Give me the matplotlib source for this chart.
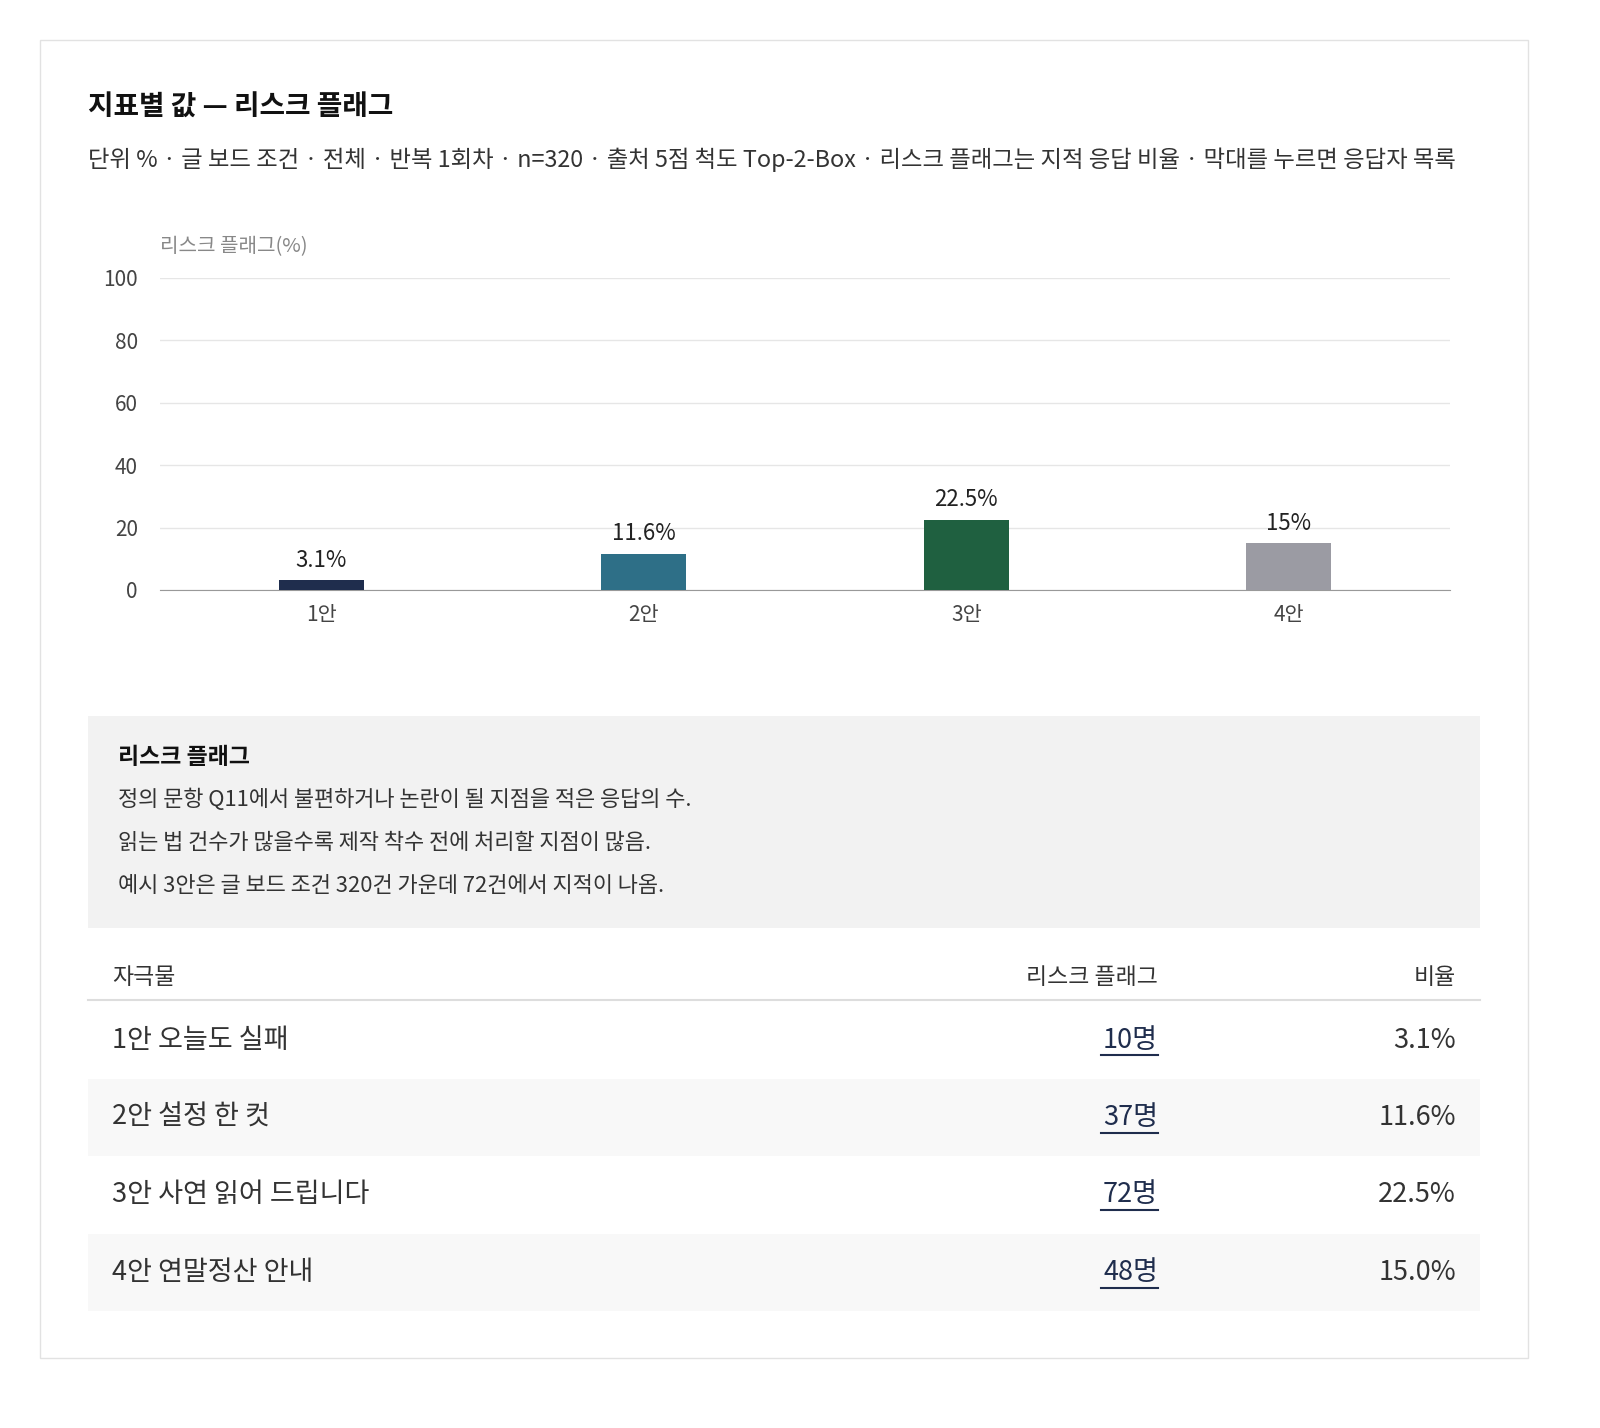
import matplotlib.pyplot as plt
from matplotlib.patches import Rectangle

plt.rcParams['font.family'] = ['Noto Sans CJK KR', 'DejaVu Sans']

# 데이터
categories = ['1안', '2안', '3안', '4안']
risk_pct = [3.1, 11.6, 22.5, 15.0]
bar_labels = ['3.1%', '11.6%', '22.5%', '15%']
bar_colors = ['#1f2d4d', '#2e6f87', '#1f6040', '#9b9ba3']
stimuli = ['1안 오늘도 실패', '2안 설정 한 컷', '3안 사연 읽어 드립니다', '4안 연말정산 안내']
counts = [10, 37, 72, 48]
yticks = [0, 20, 40, 60, 80, 100]

W, H = 1600, 1428
fig = plt.figure(figsize=(W / 100, H / 100), dpi=100)


def fx(px):
    return px / W


def fy(py):
    return 1 - py / H


def txt(x, y, s, **kw):
    fig.text(fx(x), fy(y), s, va='center', **kw)


# 카드 테두리
fig.patches.append(Rectangle((fx(40), fy(1358)), fx(1488), 1318 / H, transform=fig.transFigure,
                             fill=False, edgecolor='#e2e2e2', lw=1))

txt(88, 108, '지표별 값 — 리스크 플래그', fontsize=20, fontweight='bold', color='#111111')
txt(88, 160, '단위 % · 글 보드 조건 · 전체 · 반복 1회차 · n=320 · 출처 5점 척도 Top-2-Box · '
    '리스크 플래그는 지적 응답 비율 · 막대를 누르면 응답자 목록', fontsize=16.8, color='#333333')

# 막대 그래프
ax = fig.add_axes([fx(160), fy(590), fx(1290), (590 - 278) / H])
x = range(len(categories))
ax.bar(x, risk_pct, width=0.265, color=bar_colors, zorder=3)
for i, (v, lab) in enumerate(zip(risk_pct, bar_labels)):
    ax.annotate(lab, (i, v), xytext=(0, 6), textcoords='offset points', ha='center', va='bottom',
                fontsize=16, color='#222222')
ax.set_xlim(-0.5, 3.5)
ax.set_ylim(0, 100)
ax.set_yticks(yticks)
ax.set_xticks(list(x))
ax.set_xticklabels(categories)
ax.tick_params(length=0, labelsize=15, labelcolor='#444444')
ax.tick_params(axis='y', pad=16)
ax.tick_params(axis='x', pad=10)
ax.grid(axis='y', color='#e6e6e6', lw=1, zorder=0)
for s in ['top', 'right', 'left']:
    ax.spines[s].set_visible(False)
ax.spines['bottom'].set_color('#999999')
txt(160, 247, '리스크 플래그(%)', fontsize=14.5, color='#888888')

# 설명 박스
fig.patches.append(Rectangle((fx(88), fy(928)), fx(1392), 212 / H, transform=fig.transFigure,
                             facecolor='#f2f2f2', edgecolor='none'))
txt(118, 757, '리스크 플래그', fontsize=16.5, fontweight='bold', color='#111111')
notes = ['정의 문항 Q11에서 불편하거나 논란이 될 지점을 적은 응답의 수.',
         '읽는 법 건수가 많을수록 제작 착수 전에 처리할 지점이 많음.',
         '예시 3안은 글 보드 조건 320건 가운데 72건에서 지적이 나옴.']
for i, n in enumerate(notes):
    txt(118, 800 + 43 * i, n, fontsize=15.8, color='#333333')

# 표
txt(112, 978, '자극물', fontsize=16.5, color='#333333')
txt(1158, 978, '리스크 플래그', fontsize=16.5, color='#333333', ha='right')
txt(1456, 978, '비율', fontsize=16.5, color='#333333', ha='right')
fig.add_artist(plt.Line2D([fx(88), fx(1480)], [fy(1000), fy(1000)], color='#dddddd', lw=1.5))
for i, (name, c, p) in enumerate(zip(stimuli, counts, risk_pct)):
    yc = 1040 + 77.5 * i
    if i % 2 == 1:
        fig.patches.append(Rectangle((fx(88), fy(yc + 38)), fx(1392), 77 / H,
                                     transform=fig.transFigure, facecolor='#f8f8f8', edgecolor='none'))
    txt(112, yc, name, fontsize=19.5, color='#333333')
    txt(1158, yc, f'{c}명', fontsize=19.5, color='#1f2d4d', ha='right')
    fig.add_artist(plt.Line2D([fx(1101), fx(1158)], [fy(yc + 15), fy(yc + 15)], color='#1f2d4d', lw=1.5))
    txt(1456, yc, f'{p:.1f}%', fontsize=19.5, color='#333333', ha='right')

fig.savefig('out.png', dpi=100, facecolor='white')
